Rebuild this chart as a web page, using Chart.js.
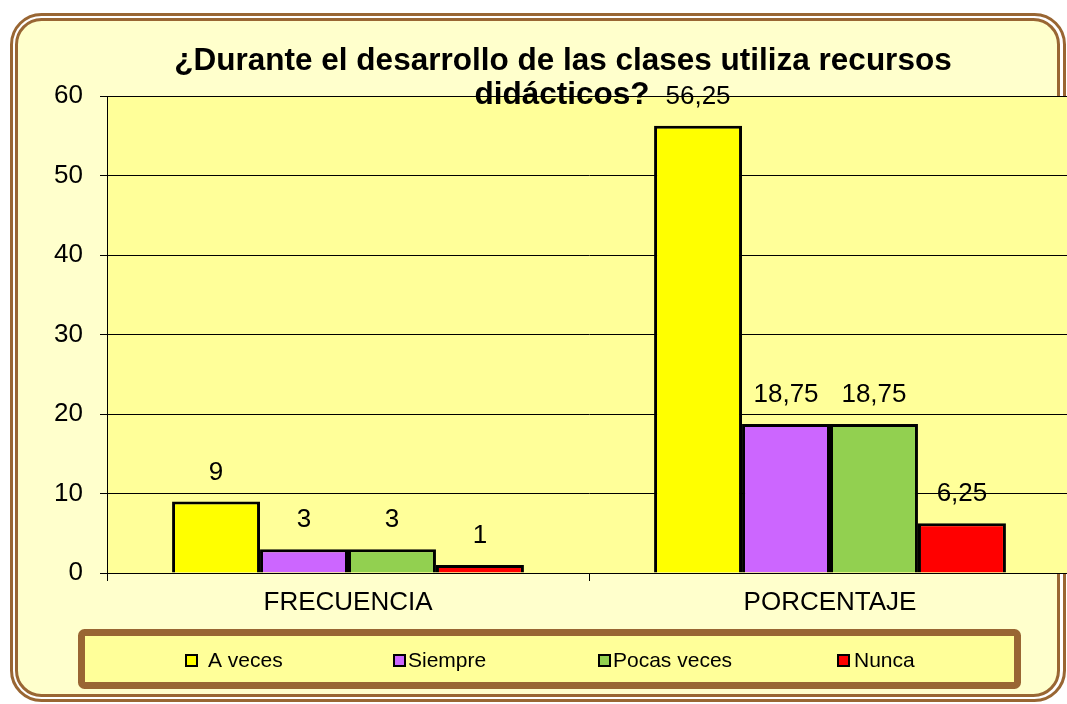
<!DOCTYPE html>
<html>
<head>
<meta charset="utf-8">
<script src="https://cdn.jsdelivr.net/npm/chart.js@4"></script>
<style>
html,body{margin:0;padding:0;background:#fff;overflow:hidden;}
#wrap{width:1067px;height:704px;overflow:hidden;position:relative;}
canvas{display:block;}
</style>
</head>
<body>
<div id="wrap"><canvas id="c" width="1071" height="704"></canvas></div>
<script>
const categories = ['FRECUENCIA', 'PORCENTAJE'];
const seriesNames = ['A veces', 'Siempre', 'Pocas veces', 'Nunca'];
const aVeces = [9, 56.25];
const siempre = [3, 18.75];
const pocasVeces = [3, 18.75];
const nunca = [1, 6.25];
const yTickValues = [0, 10, 20, 30, 40, 50, 60];
const titleLines = ['¿Durante el desarrollo de las clases utiliza recursos', 'didácticos?'];

const colors = ['#FFFF00', '#CC66FF', '#92D050', '#FF0000'];
const FONT = '"Liberation Sans", Arial, sans-serif';

function fmt(v) { return String(v).replace('.', ','); }

const bgPlugin = {
  id: 'bg',
  beforeDraw(chart) {
    const ctx = chart.ctx;
    ctx.save();
    ctx.fillStyle = '#FFFFFF';
    ctx.fillRect(0, 0, chart.width, chart.height);
    ctx.strokeStyle = '#996633';
    ctx.lineWidth = 3;
    ctx.beginPath();
    ctx.roundRect(11.5, 14.5, 1053, 686, 30);
    ctx.stroke();
    ctx.fillStyle = '#FFFFCC';
    ctx.beginPath();
    ctx.roundRect(16.5, 19.5, 1042, 676, 25);
    ctx.fill();
    ctx.stroke();
    const a = chart.chartArea;
    ctx.fillStyle = '#FFFF99';
    ctx.fillRect(a.left, a.top, a.right - a.left, a.bottom - a.top);
    ctx.restore();
  },
  afterDatasetsDraw(chart) {
    const ctx = chart.ctx;
    ctx.save();
    ctx.font = '26px ' + FONT;
    ctx.fillStyle = '#000';
    ctx.textAlign = 'center';
    ctx.textBaseline = 'middle';
    chart.data.datasets.forEach((ds, i) => {
      const meta = chart.getDatasetMeta(i);
      meta.data.forEach((el, j) => {
        ctx.fillText(fmt(ds.data[j]), el.x, el.y - 29);
      });
    });
    ctx.restore();
  },
  afterDraw(chart) {
    const ctx = chart.ctx;
    ctx.save();
    ctx.font = 'bold 31.5px ' + FONT;
    ctx.fillStyle = '#000';
    ctx.textAlign = 'center';
    ctx.textBaseline = 'alphabetic';
    ctx.fillText(titleLines[0], 563, 70);
    ctx.fillText(titleLines[1], 562, 104);
    ctx.strokeStyle = '#996633';
    ctx.lineWidth = 7;
    ctx.fillStyle = '#FFFF99';
    ctx.beginPath();
    ctx.roundRect(81.5, 632.5, 936, 53, 3);
    ctx.fill();
    ctx.stroke();
    const sqX = [185, 393, 598, 837];
    const txX = [208, 408, 613, 854];
    ctx.font = '21px ' + FONT;
    ctx.textAlign = 'left';
    ctx.textBaseline = 'middle';
    chart.data.datasets.forEach((ds, i) => {
      ctx.fillStyle = ds.backgroundColor;
      ctx.fillRect(sqX[i], 654, 13, 13);
      ctx.lineWidth = 2;
      ctx.strokeStyle = '#000';
      ctx.strokeRect(sqX[i] + 1, 655, 11, 11);
      ctx.fillStyle = '#000';
      ctx.fillText(ds.label, txX[i], 661);
    });
    ctx.restore();
  }
};

const seriesData = [aVeces, siempre, pocasVeces, nunca];

new Chart(document.getElementById('c'), {
  type: 'bar',
  data: {
    labels: categories,
    datasets: seriesNames.map((name, i) => ({
      label: name,
      data: seriesData[i],
      backgroundColor: colors[i],
      borderColor: '#000',
      borderWidth: 3,
      categoryPercentage: 0.73,
      barPercentage: 1.0
    }))
  },
  options: {
    responsive: false,
    animation: false,
    devicePixelRatio: 1,
    layout: { padding: { top: 96, left: 0, right: 0, bottom: 0 } },
    plugins: {
      legend: { display: false },
      title: { display: false },
      tooltip: { enabled: false }
    },
    scales: {
      x: {
        offset: true,
        grid: { display: true, drawOnChartArea: false, drawTicks: true, tickLength: 8, color: '#000', offset: true },
        border: { display: true, color: '#000', width: 1 },
        ticks: { color: '#000', font: { family: FONT, size: 26 }, padding: 6 },
        afterFit(scale) { scale.height = 131; }
      },
      y: {
        min: 0, max: 60,
        afterBuildTicks(scale) { scale.ticks = yTickValues.map(v => ({ value: v })); },
        grid: { color: '#000', lineWidth: 1, tickLength: 7 },
        border: { display: true, color: '#000', width: 1 },
        ticks: { color: '#000', font: { family: FONT, size: 26 }, padding: 17 },
        afterFit(scale) { scale.width = 107; }
      }
    }
  },
  plugins: [bgPlugin]
});
</script>
</body>
</html>
